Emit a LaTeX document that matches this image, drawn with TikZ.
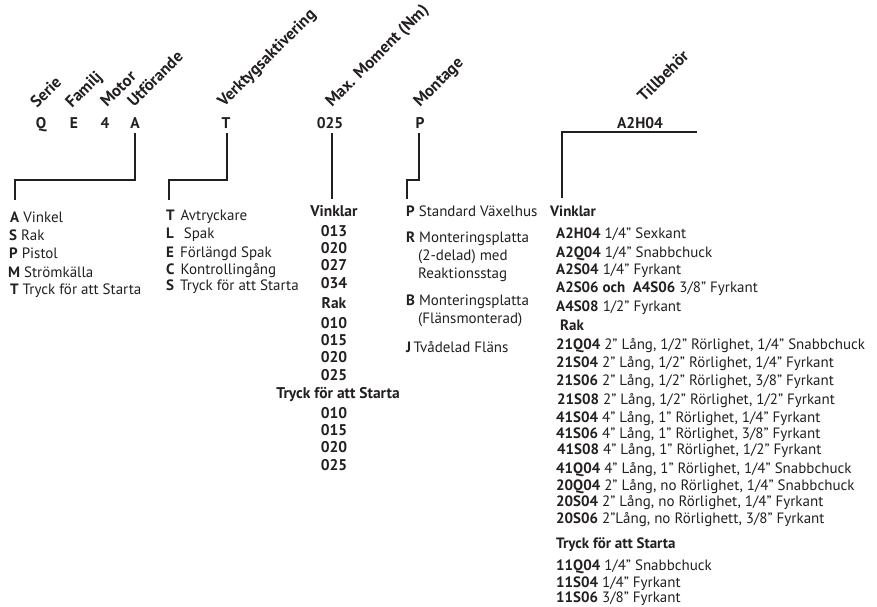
\documentclass[tikz,border=0pt]{standalone}
\usepackage{fontspec}
\setmainfont{PT Sans}
\definecolor{ink}{HTML}{231F20}
\newcommand{\keyA}[1]{\textbf{#1}\hspace{4pt}}
\newcommand{\keyB}[1]{\textbf{#1}\hspace{6pt}}
\begin{document}
\begin{tikzpicture}[x=1pt,y=-1pt,
  every node/.style={text=ink,inner sep=0pt},
  code/.style={font=\bfseries\fontsize{15.5}{17}\selectfont, anchor=base},
  rot/.style={font=\bfseries\fontsize{16.5}{19}\selectfont, rotate=45, anchor=base west},
  item/.style={font=\fontsize{15}{17}\selectfont, anchor=base west},
  citem/.style={font=\bfseries\fontsize{15.5}{17}\selectfont, anchor=base},
  wire/.style={draw=ink, line width=1.8pt}]
\useasboundingbox (0,0) rectangle (877,606);
% rotated headers
\node[rot] (hSerie) at (37,109) {Serie};
\node[rot] (hFam) at (72,109) {Familj};
\node[rot] (hMot) at (107,108) {Motor};
\node[rot] (hUtf) at (134,108) {Utförande};
\node[rot] (hVerk) at (224,108) {Verktygsaktivering};
\node[rot] (hMax) at (332,108) {Max. Moment (Nm)};
\node[rot] (hMon) at (420,108) {Montage};
\node[rot] (hTill) at (644,103) {Tillbehör};
% code letters
\node[code] (cQ) at (41,128) {Q};
\node[code] (cE) at (74,128) {E};
\node[code] (c4) at (105,128) {4};
\node[code] (cA) at (135,128) {A};
\node[code] (cT) at (226,128) {T};
\node[code] (c025) at (330,128) {025};
\node[code] (cP) at (420,128) {P};
\node[code] (cAcc) at (640,128) {A2H04};
% column 1
\node[item] (l1a) at (10,222) {\keyA{A}Vinkel};
\node[item] (l1b) at (9,240) {\keyA{S}Rak};
\node[item] (l1c) at (9,258) {\keyA{P}Pistol};
\node[item] (l1d) at (8,277) {\keyA{M}Strömkälla};
\node[item] (l1e) at (10,294) {\keyA{T}Tryck för att Starta};
% column 2
\node[item] (l2a) at (166,220) {\keyB{T}Avtryckare};
\node[item] (l2b) at (166,238) {\keyB{L}\ Spak};
\node[item] (l2c) at (166,257) {\keyB{E}Förlängd Spak};
\node[item] (l2d) at (166,274) {\keyB{C}Kontrollingång};
\node[item] (l2e) at (166,290) {\keyB{S}Tryck för att Starta};
% column 3
\node[citem] (l3h1) at (334,216) {Vinklar};
\node[citem] (l3a) at (334,236) {013};
\node[citem] (l3b) at (334,253) {020};
\node[citem] (l3c) at (334,270) {027};
\node[citem] (l3d) at (334,288) {034};
\node[citem] (l3h2) at (334,308) {Rak};
\node[citem] (l3e) at (334,328) {010};
\node[citem] (l3f) at (334,345) {015};
\node[citem] (l3g) at (334,362) {020};
\node[citem] (l3h) at (334,380) {025};
\node[citem] (l3h3) at (338,398) {Tryck för att Starta};
\node[citem] (l3i) at (334,418) {010};
\node[citem] (l3j) at (334,435) {015};
\node[citem] (l3k) at (334,452) {020};
\node[citem] (l3l) at (334,470) {025};
% column 4
\node[item] (l4a) at (406,216) {\textbf{P} Standard Växelhus};
\node[item] (l4b) at (406,242) {\textbf{R} Monteringsplatta};
\node[item] (l4b2) at (418,260) {(2-delad) med};
\node[item] (l4b3) at (418,278) {Reaktionsstag};
\node[item] (l4c) at (406,305) {\textbf{B} Monteringsplatta};
\node[item] (l4c2) at (418,323) {(Flänsmonterad)};
\node[item] (l4d) at (406,352) {\textbf{J}\,Tvådelad Fläns};
% column 5
\node[item] (l5h1) at (550,216) {\textbf{Vinklar}};
\node[item] (l5a) at (556,238) {\textbf{A2H04} 1/4" Sexkant};
\node[item] (l5b) at (556,257) {\textbf{A2Q04} 1/4" Snabbchuck};
\node[item] (l5c) at (556,274) {\textbf{A2S04} 1/4" Fyrkant};
\node[item] (l5d) at (556,292) {\textbf{A2S06 och\ \ A4S06} 3/8" Fyrkant};
\node[item] (l5e) at (556,311) {\textbf{A4S08} 1/2" Fyrkant};
\node[item] (l5h2) at (560,330) {\textbf{Rak}};
\node[item] (l5f) at (556,349) {\textbf{21Q04} 2" Lång, 1/2" Rörlighet, 1/4" Snabbchuck};
\node[item] (l5g) at (556,367) {\textbf{21S04} 2" Lång, 1/2" Rörlighet, 1/4" Fyrkant};
\node[item] (l5h) at (556,385) {\textbf{21S06} 2" Lång, 1/2" Rörlighet, 3/8" Fyrkant};
\node[item] (l5i) at (557,404) {\textbf{21S08} 2" Lång, 1/2" Rörlighet, 1/2" Fyrkant};
\node[item] (l5j) at (556,422) {\textbf{41S04} 4" Lång, 1" Rörlighet, 1/4" Fyrkant};
\node[item] (l5k) at (556,438) {\textbf{41S06} 4" Lång, 1" Rörlighet, 3/8" Fyrkant};
\node[item] (l5l) at (557,454) {\textbf{41S08} 4" Lång, 1" Rörlighet, 1/2" Fyrkant};
\node[item] (l5m) at (556,473) {\textbf{41Q04} 4" Lång, 1" Rörlighet, 1/4" Snabbchuck};
\node[item] (l5n) at (556,490) {\textbf{20Q04} 2" Lång, no Rörlighet, 1/4" Snabbchuck};
\node[item] (l5o) at (556,506) {\textbf{20S04} 2" Lång, no Rörlighet, 1/4" Fyrkant};
\node[item] (l5p) at (556,523) {\textbf{20S06} 2"Lång, no Rörlighett, 3/8" Fyrkant};
\node[item] (l5h3) at (556,548) {\textbf{Tryck för att Starta}};
\node[item] (l5q) at (556,570) {\textbf{11Q04} 1/4" Snabbchuck};
\node[item] (l5r) at (556,587) {\textbf{11S04} 1/4" Fyrkant};
\node[item] (l5s) at (556,602) {\textbf{11S06} 3/8" Fyrkant};
% connector ends
\coordinate (e1) at (15,200);
\coordinate (e2) at (169,200);
\coordinate (e3) at (332,199);
\coordinate (e4) at (407,199);
\coordinate (e5) at (562,198);
\coordinate (e5r) at (697,132);
% connectors
\draw[wire] (135,133) -- (135,180) -| (e1);
\draw[wire] (227,133) -- (227,180) -| (e2);
\draw[wire] (332,133) -- (e3);
\draw[wire] (419,133) -- (419,180) -| (e4);
\draw[wire] (e5r) -| (e5);
\end{tikzpicture}
\end{document}
